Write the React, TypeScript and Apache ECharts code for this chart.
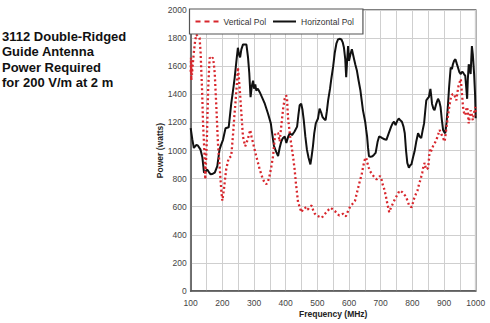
import React, { useEffect, useRef } from "react";
import * as echarts from "echarts";

const titleLines = ["3112 Double-Ridged", "Guide Antenna", "Power Required", "for 200 V/m at 2 m"];
const seriesNames = ["Vertical Pol", "Horizontal Pol"];

const hFreq = [100,105,110,118,123,131,137,142,147,152,158,163,170,176,184,191,196,202,210,220,228,235,239,245,249,253,256,260,265,270,276,281,285,289,293,297,300,304,307,312,318,325,334,344,353,358,363,370,376,381,386,391,397,402,408,413,420,428,436,440,444,449,453,457,462,467,472,478,482,486,490,495,502,507,512,516,521,526,530,534,540,544,550,555,560,565,570,576,580,584,588,591,594,597,600,605,609,613,616,620,625,630,636,644,651,654,657,660,663,668,674,679,684,690,695,700,705,712,718,725,733,738,742,747,752,757,762,767,772,776,780,784,789,793,797,802,807,812,818,823,828,833,837,841,844,848,852,857,860,862,866,870,875,881,885,889,893,897,901,904,908,912,916,921,925,928,932,936,940,944,948,953,957,960,964,967,970,973,975,978,981,984,986,988,991,995,998,1000];
const hPower = [1160,1080,1018,1040,1034,1006,950,842,850,865,845,830,835,842,889,1006,1040,1076,1158,1165,1333,1450,1521,1650,1731,1680,1663,1720,1754,1755,1754,1663,1550,1380,1460,1497,1440,1470,1427,1440,1415,1380,1333,1263,1193,1110,1032,990,961,1020,1064,1088,1100,1053,1100,1123,1110,1135,1170,1250,1322,1333,1290,1216,1100,1006,950,901,960,1030,1120,1193,1228,1298,1270,1240,1225,1216,1280,1357,1440,1509,1600,1696,1760,1790,1795,1790,1770,1731,1650,1521,1640,1743,1638,1690,1720,1680,1650,1610,1567,1500,1427,1286,1205,1150,1100,1020,959,955,959,970,983,1060,1100,1095,1088,1080,1076,1120,1170,1195,1205,1181,1210,1228,1215,1205,1170,1123,1000,912,877,895,901,950,994,1060,1123,1100,1088,1150,1193,1290,1357,1370,1380,1439,1380,1333,1300,1286,1330,1368,1350,1310,1220,1146,1130,1123,1200,1310,1450,1591,1580,1614,1640,1650,1620,1591,1560,1544,1560,1556,1540,1532,1450,1368,1500,1614,1580,1544,1650,1743,1680,1544,1400,1230];

const vFreq = [100,101,102,103,104,106,110,114,118,123,128,131,136,139,142,144,146,148,151,155,158,160,165,170,173,176,181,186,192,197,200,205,212,220,228,234,238,242,246,249,252,256,260,265,272,276,281,288,292,297,307,318,328,334,339,344,349,355,360,367,372,376,381,388,392,397,401,404,407,414,423,428,432,439,446,450,455,460,465,470,476,482,487,492,498,505,510,514,520,529,536,542,549,556,562,569,575,582,586,590,597,603,611,619,625,629,635,640,645,650,654,658,662,666,672,677,682,687,692,698,702,706,712,717,722,727,730,734,738,743,748,754,759,764,769,775,780,785,790,794,798,802,805,811,816,821,826,831,835,839,843,847,850,855,858,862,865,870,876,881,886,891,897,902,907,912,917,923,927,931,935,939,942,946,950,953,956,960,963,967,970,973,976,978,981,984,988,991,995,999,1000];
const vPower = [1560,1660,1500,1640,1540,1600,1700,1780,1825,1810,1801,1708,1427,1193,1050,959,795,900,1076,1427,1580,1661,1650,1661,1620,1544,1310,1053,865,702,643,725,865,947,959,1123,1250,1357,1480,1591,1520,1400,1263,1100,1030,1050,1088,1146,1100,1053,959,865,795,770,760,780,819,890,959,1123,1125,1123,1064,1216,1300,1370,1392,1380,1240,1100,959,870,772,632,585,560,585,590,597,580,600,608,573,550,538,530,525,521,540,561,580,592,580,568,550,538,545,550,540,531,570,597,620,643,700,737,790,830,890,936,950,912,880,854,835,819,805,795,805,819,800,760,720,667,610,561,580,600,620,645,667,690,714,710,702,685,671,640,608,600,597,630,655,690,714,760,795,840,889,912,865,870,877,1006,990,1010,1030,1050,1076,1110,1146,1120,1088,1064,1150,1240,1320,1392,1400,1404,1380,1357,1410,1462,1490,1509,1420,1310,1270,1251,1290,1310,1250,1193,1240,1286,1250,1216,1270,1310,1250];

const xMin = 100, xMax = 1000, xStep = 100;
const yMin = 0, yMax = 2000, yStep = 200;

const pairs = (xs: number[], ys: number[]) => xs.map((x, i) => [x, ys[i]]);

export default function App() {
  const ref = useRef<HTMLDivElement>(null);
  useEffect(() => {
    if (!ref.current) return;
    const chart = echarts.init(ref.current, undefined, { renderer: "svg" });
    const font = "Liberation Sans, Arial, sans-serif";
    chart.setOption({
      animation: false,
      backgroundColor: "#ffffff",
      textStyle: { fontFamily: font },
      graphic: [
        {
          type: "text",
          left: 2,
          top: 29,
          style: {
            text: titleLines.join("\n"),
            font: "bold 13px " + font,
            fill: "#111",
            lineHeight: 15.3,
          },
        },
      ],
      legend: {
        left: 189.5,
        top: 9,
        padding: [8, 9, 8, 6],
        itemGap: 7,
        itemWidth: 23,
        itemHeight: 2.5,
        backgroundColor: "#fff",
        borderColor: "#555",
        borderWidth: 1.2,
        textStyle: { fontSize: 8.5, color: "#333", fontFamily: font },
        data: [
          { name: seriesNames[0], icon: "path://M0,0h5v2h-5zM9,0h5v2h-5zM18,0h5v2h-5z" },
          { name: seriesNames[1], icon: "path://M0,0h23v2h-23z" },
        ],
      },
      grid: {
        left: 190.7,
        right: 14.3,
        top: 10,
        bottom: 28,
        show: true,
        borderColor: "#555",
        borderWidth: 1.5,
      },
      xAxis: {
        type: "value",
        min: xMin,
        max: xMax,
        interval: xStep,
        name: "Frequency (MHz)",
        nameLocation: "middle",
        nameGap: 18,
        nameMoveOverlap: false,
        nameTextStyle: { fontSize: 8.5, fontWeight: "bold", color: "#222" },
        axisLine: { show: true, lineStyle: { color: "#555", width: 1.5 } },
        axisTick: { show: false },
        axisLabel: { fontSize: 8.5, color: "#444", margin: 7, formatter: (v: number) => String(v) },
        splitLine: { show: true, lineStyle: { color: "#cfcfcf", width: 1 } },
        minorTick: { show: false, splitNumber: 2 },
        minorSplitLine: { show: true, lineStyle: { color: "#cfcfcf", width: 1 } },
      },
      yAxis: {
        type: "value",
        min: yMin,
        max: yMax,
        interval: yStep,
        name: "Power (watts)",
        nameLocation: "middle",
        nameGap: 26,
        nameMoveOverlap: false,
        nameTextStyle: { fontSize: 8.5, fontWeight: "bold", color: "#222" },
        axisLine: { show: true, lineStyle: { color: "#555", width: 1.5 } },
        axisTick: { show: false },
        axisLabel: { fontSize: 8.5, color: "#444", margin: 4, formatter: (v: number) => String(v) },
        splitLine: { show: true, lineStyle: { color: "#cfcfcf", width: 1 } },
      },
      series: [
        {
          name: seriesNames[0],
          type: "line",
          data: pairs(vFreq, vPower),
          showSymbol: false,
          symbol: "none",
          lineStyle: { color: "#d8262c", width: 2.3, type: [2, 2.6] },
          itemStyle: { color: "#d8262c" },
          z: 3,
        },
        {
          name: seriesNames[1],
          type: "line",
          data: pairs(hFreq, hPower),
          showSymbol: false,
          symbol: "none",
          lineStyle: { color: "#111", width: 2 },
          itemStyle: { color: "#111" },
          z: 2,
        },
      ],
    });
    return () => chart.dispose();
  }, []);
  return <div ref={ref} style={{ width: 490, height: 323, position: "absolute", left: 0, top: 0 }} />;
}
